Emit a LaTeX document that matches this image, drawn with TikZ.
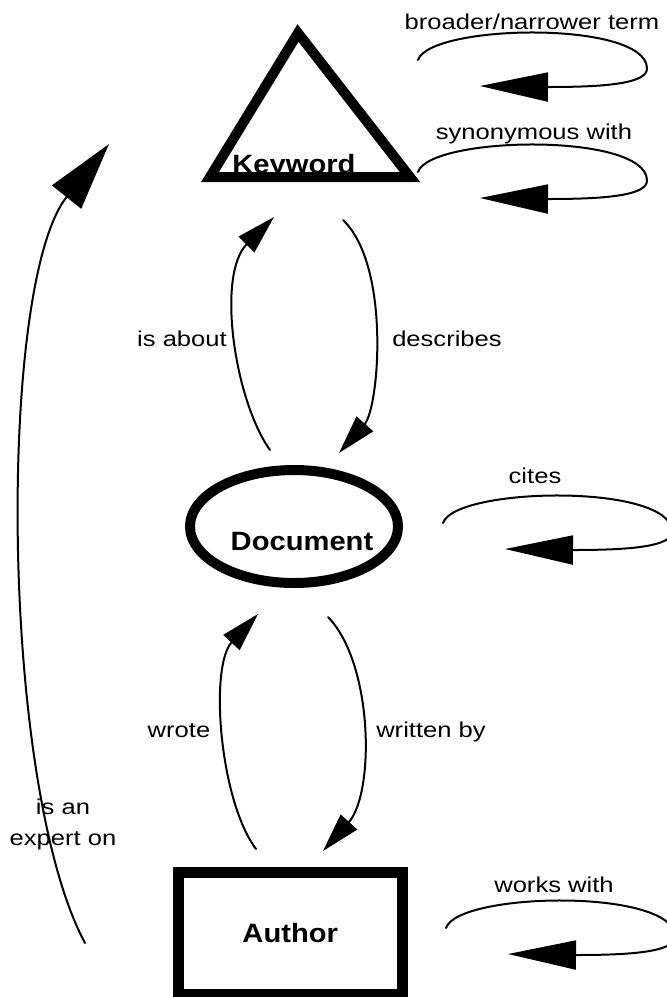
\documentclass[tikz,border=0pt]{standalone}
\usepackage{fontspec}
\setmainfont{Liberation Sans}
\newfontfamily\edgefont[FakeStretch=1.19]{Liberation Sans}
\newfontfamily\entityfont[FakeStretch=1.10]{Liberation Sans}
\usetikzlibrary{arrows.meta,shapes.geometric}

\begin{document}
\begin{tikzpicture}[x=1pt,y=-1pt,
  rel/.style={line width=2pt, line cap=round},
  bigtip/.style={-{Triangle[length=68pt,width=29pt]}},
  midtip/.style={-{Triangle[length=39pt,width=22pt]}},
  longtip/.style={-{Triangle[length=68pt,width=37pt]}},
  edgelabel/.style={font=\edgefont\fontsize{21.5}{31}\selectfont, inner sep=0pt, align=center},
  entitylabel/.style={font=\entityfont\bfseries\fontsize{26.5}{30}\selectfont, inner sep=0pt},
  entityline/.style={line width=10pt, line join=miter},
  loopback/.pic={
    \draw[rel,bigtip] (0,0) .. controls (12,-36) and (227,-40) .. (229,8)
      .. controls (230,24) and (185,27) .. (130,27) -- (62,26);
  }
]
% page frame
\fill[white] (0,0) rectangle (667,997);
\useasboundingbox (0,0) rectangle (667,997);

% ---- entities ----
\coordinate (kwtop) at (298,33);
\coordinate (kwright) at (410,177);
\coordinate (kwleft) at (210,177);
\draw[entityline] (kwtop) -- (kwright) -- (kwleft) -- cycle;
\node[entitylabel, anchor=base] (keyword) at (294,173) {Keyword};

\node[ellipse, draw, entityline, minimum width=208pt, minimum height=113pt, inner sep=0pt] (doc) at (294,526.5) {};
\node[entitylabel, anchor=base] (document) at (302,550) {Document};

\node[draw, line width=11pt, minimum width=224.5pt, minimum height=121.5pt, inner sep=0pt, entitylabel] (author) at (290.25,933.25) {Author};

% ---- self relations ----
\pic (bn) at (418,60) {loopback};
\pic (syn) at (418,172) {loopback};
\pic (cit) at (443,523) {loopback};
\pic (wk) at (446,928) {loopback};

\node[edgelabel, anchor=base] (bnlabel) at (532,29) {broader/narrower term};
\node[edgelabel, anchor=base] (synlabel) at (534,139) {synonymous with};
\node[edgelabel, anchor=base] (citlabel) at (535,483) {cites};
\node[edgelabel, anchor=base] (wklabel) at (554,892) {works with};

% ---- keyword <-> document ----
\coordinate (aboutS) at (270,450);
\coordinate (aboutE) at (274,217);
\draw[rel,midtip] (aboutS) .. controls (234.8,400.9) and (216,275) .. (aboutE);
\coordinate (descS) at (343,220);
\coordinate (descE) at (339,453);
\draw[rel,midtip] (descS) .. controls (391,266) and (379,408) .. (descE);
\node[edgelabel, anchor=base] (aboutlabel) at (182,346) {is about};
\node[edgelabel, anchor=base] (desclabel) at (447,346) {describes};

% ---- document <-> author ----
\coordinate (wroteS) at (256,849);
\coordinate (wroteE) at (258,614);
\draw[rel,midtip] (wroteS) .. controls (219.6,800.4) and (209.1,666.5) .. (wroteE);
\coordinate (wbyS) at (328,617);
\coordinate (wbyE) at (323,851);
\draw[rel,midtip] (wbyS) .. controls (373.6,664) and (374.7,793.3) .. (wbyE);
\node[edgelabel, anchor=base] (wrotelabel) at (179,737) {wrote};
\node[edgelabel, anchor=base] (wbylabel) at (431,737) {written by};

% ---- author -> keyword ----
\coordinate (expS) at (85,943);
\coordinate (expE) at (109,144);
\draw[rel,longtip] (expS) .. controls (0,785) and (-3,284) .. (expE);
\node[edgelabel] (explabel) at (63,824) {is an\\expert on};
\end{tikzpicture}
\end{document}
